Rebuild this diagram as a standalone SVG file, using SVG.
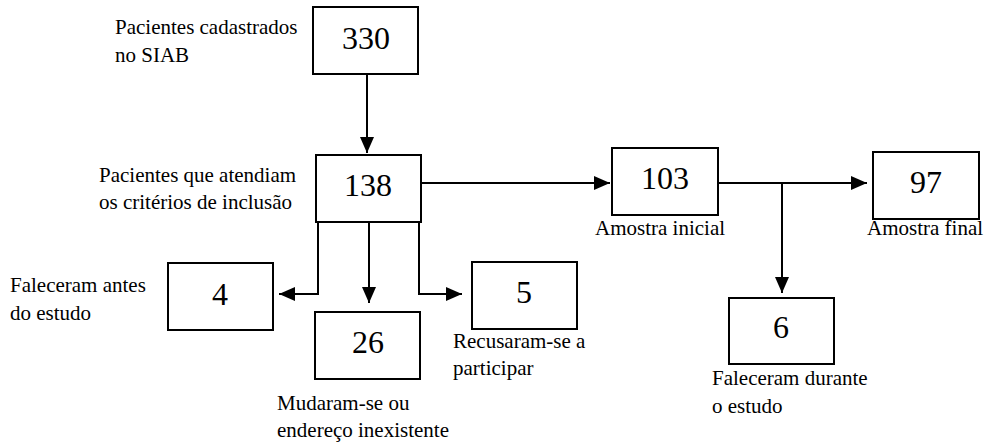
<svg xmlns="http://www.w3.org/2000/svg" width="986" height="443" viewBox="0 0 986 443" font-family="Liberation Serif, Times New Roman, DejaVu Serif, serif">
<style>
.box{fill:#fff;stroke:#000;stroke-width:2}
.num{font-size:32px;text-anchor:middle;fill:#000}
.lbl{font-size:21px;fill:#000}
.ln{fill:none;stroke:#000;stroke-width:2}
</style>
<defs>
<marker id="ah" viewBox="0 0 16 14" refX="16" refY="7" markerWidth="16" markerHeight="14" markerUnits="userSpaceOnUse" orient="auto">
<path d="M0,0 L16,7 L0,14 Z" fill="#000"/>
</marker>
</defs>
<g id="connectors">
<path class="ln" d="M367,74 V153" marker-end="url(#ah)"/>
<path class="ln" d="M421,183 H610" marker-end="url(#ah)"/>
<path class="ln" d="M718,183 H867" marker-end="url(#ah)"/>
<path class="ln" d="M782,183 V293" marker-end="url(#ah)"/>
<path class="ln" d="M318,222 V294 H279" marker-end="url(#ah)"/>
<path class="ln" d="M369,222 V303" marker-end="url(#ah)"/>
<path class="ln" d="M419,222 V294 H462" marker-end="url(#ah)"/>
</g>
<g id="n330">
<rect class="box" x="313" y="7" width="105" height="67"/>
<text class="num" x="366" y="49">330</text>
<text class="lbl" x="115" y="34">Pacientes cadastrados</text>
<text class="lbl" x="115" y="62">no SIAB</text>
</g>
<g id="n138">
<rect class="box" x="316" y="155" width="105" height="67"/>
<text class="num" x="368" y="196">138</text>
<text class="lbl" x="99" y="182">Pacientes que atendiam</text>
<text class="lbl" x="99" y="209">os critérios de inclusão</text>
</g>
<g id="n103">
<rect class="box" x="612" y="148" width="106" height="67"/>
<text class="num" x="665" y="189">103</text>
<text class="lbl" x="595" y="235">Amostra inicial</text>
</g>
<g id="n97">
<rect class="box" x="873" y="152" width="106" height="67"/>
<text class="num" x="926" y="193">97</text>
<text class="lbl" x="867" y="235">Amostra final</text>
</g>
<g id="n6">
<rect class="box" x="729" y="298" width="105" height="66"/>
<text class="num" x="781" y="338">6</text>
<text class="lbl" x="712" y="385">Faleceram durante</text>
<text class="lbl" x="712" y="413">o estudo</text>
</g>
<g id="n4">
<rect class="box" x="168" y="263" width="105" height="67"/>
<text class="num" x="220" y="305">4</text>
<text class="lbl" x="10" y="292">Faleceram antes</text>
<text class="lbl" x="10" y="320">do estudo</text>
</g>
<g id="n26">
<rect class="box" x="315" y="312" width="105" height="67"/>
<text class="num" x="368" y="353">26</text>
<text class="lbl" x="277" y="410">Mudaram-se ou</text>
<text class="lbl" x="277" y="437">endereço inexistente</text>
</g>
<g id="n5">
<rect class="box" x="472" y="262" width="105" height="67"/>
<text class="num" x="524" y="303">5</text>
<text class="lbl" x="453" y="348">Recusaram-se a</text>
<text class="lbl" x="453" y="375">participar</text>
</g>
</svg>
